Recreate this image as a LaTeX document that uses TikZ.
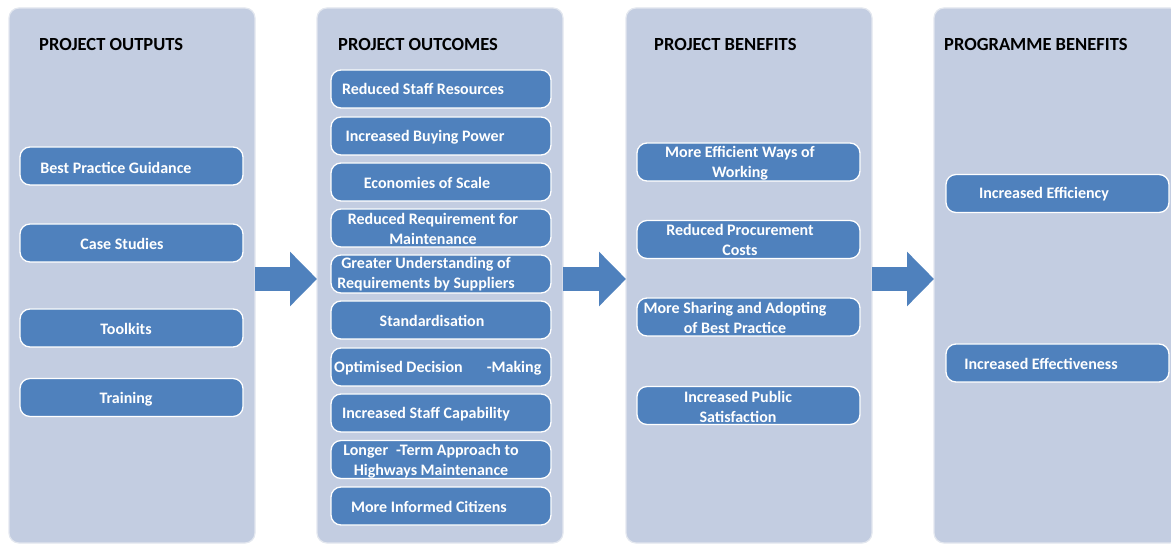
\documentclass[tikz,border=0pt]{standalone}
\usepackage{fontspec}
\setmainfont{Carlito}
\usetikzlibrary{arrows.meta}
\definecolor{panelbg}{HTML}{C3CDE1}
\definecolor{panelline}{HTML}{E3E7EF}
\definecolor{boxblue}{HTML}{4F81BD}
\tikzset{
  panel/.style={draw=panelline, line width=1.2pt, fill=panelbg, rounded corners=10pt,
    minimum width=246pt, minimum height=535pt, inner sep=0pt, outer sep=0pt},
  bluebox/.style={draw=white, line width=1.3pt, fill=boxblue, rounded corners=10pt,
    minimum height=38pt, inner sep=0pt, outer sep=0pt},
  hdr/.style={font=\bfseries\fontsize{18.5}{22}\selectfont, text=black, anchor=west, inner sep=0pt},
  lbl/.style={font=\bfseries\fontsize{16}{20}\selectfont, text=white, align=center, inner sep=0pt, yshift=-1pt},
  flow/.style={draw=boxblue, line width=24pt, -{Triangle[length=27pt,width=53pt]}},
}
\begin{document}
\begin{tikzpicture}[x=1pt,y=-1pt]
\useasboundingbox (0,0) rectangle (1171,545);
\clip (0,0) rectangle (1171,545);
% panels
\node[panel] (p1) at (132,275.5) {};
\node[panel] (p2) at (440,275.5) {};
\node[panel] (p3) at (749,275.5) {};
\node[panel] (p4) at (1057,275.5) {};
% arrows
\draw[flow] ([yshift=-3.5pt]p1.east) -- ([yshift=-3.5pt]p2.west);
\draw[flow] ([yshift=-3.5pt]p2.east) -- ([yshift=-3.5pt]p3.west);
\draw[flow] ([yshift=-3.5pt]p3.east) -- ([yshift=-3.5pt]p4.west);
% headers
\node[hdr] (h1) at (39,44.5) {PROJECT OUTPUTS};
\node[hdr] (h2) at (338,44.5) {PROJECT OUTCOMES};
\node[hdr] (h3) at (654,44.5) {PROJECT BENEFITS};
\node[hdr] (h4) at (944,44.5) {PROGRAMME BENEFITS};
% panel 1
\node[bluebox, minimum width=223pt] (a1) at (131.5,166) {};
\node[bluebox, minimum width=223pt] (a2) at (131.5,243) {};
\node[bluebox, minimum width=223pt] (a3) at (131.5,328) {};
\node[bluebox, minimum width=223pt] (a4) at (131.5,397.5) {};
\node[lbl] (ta1) at (116,167) {Best Practice Guidance};
\node[lbl] (ta2) at (122,243) {Case Studies};
\node[lbl] (ta3) at (126,328) {Toolkits};
\node[lbl] (ta4) at (126,398) {Training};
% panel 2
\node[bluebox, minimum width=220pt] (b1) at (441,89) {};
\node[bluebox, minimum width=220pt] (b2) at (441,136) {};
\node[bluebox, minimum width=220pt] (b3) at (441,182) {};
\node[bluebox, minimum width=220pt] (b4) at (441,228) {};
\node[bluebox, minimum width=220pt] (b5) at (441,274) {};
\node[bluebox, minimum width=220pt] (b6) at (441,320) {};
\node[bluebox, minimum width=220pt] (b7) at (441,367) {};
\node[bluebox, minimum width=220pt] (b8) at (441,413) {};
\node[bluebox, minimum width=220pt] (b9) at (441,459.5) {};
\node[bluebox, minimum width=220pt] (b10) at (441,506) {};
\node[lbl] (tb1) at (423,88) {Reduced Staff Resources};
\node[lbl] (tb2) at (425,136) {Increased Buying Power};
\node[lbl] (tb3) at (427,182) {Economies of Scale};
\node[lbl] (tb4) at (433,228) {Reduced Requirement for\\Maintenance};
\node[lbl] (tb5) at (426,273.5) {Greater Understanding of\\Requirements by Suppliers};
\node[lbl] (tb6) at (432,320) {Standardisation};
\node[lbl, anchor=west] (tb7) at (334,367) {Optimised Decision\hspace*{24pt}-Making};
\node[lbl] (tb8) at (426,413) {Increased Staff Capability};
\node[lbl] (tb9) at (431,460) {Longer\hspace*{8pt}-Term Approach to\\Highways Maintenance};
\node[lbl] (tb10) at (429,506) {More Informed Citizens};
% panel 3
\node[bluebox, minimum width=223pt] (c1) at (748.5,162) {};
\node[bluebox, minimum width=223pt] (c2) at (748.5,239.5) {};
\node[bluebox, minimum width=223pt] (c3) at (748.5,317) {};
\node[bluebox, minimum width=223pt] (c4) at (748.5,405.5) {};
\node[lbl] (tc1) at (740,162) {More Efficient Ways of\\Working};
\node[lbl] (tc2) at (740,239) {Reduced Procurement\\Costs};
\node[lbl] (tc3) at (735,317) {More Sharing and Adopting\\of Best Practice};
\node[lbl] (tc4) at (738,405.5) {Increased Public\\Satisfaction};
% panel 4
\node[bluebox, minimum width=223pt] (d1) at (1057.5,193.5) {};
\node[bluebox, minimum width=223pt] (d2) at (1057.5,363) {};
\node[lbl] (td1) at (1044,193) {Increased Efficiency};
\node[lbl] (td2) at (1041,363) {Increased Effectiveness};
\end{tikzpicture}
\end{document}
